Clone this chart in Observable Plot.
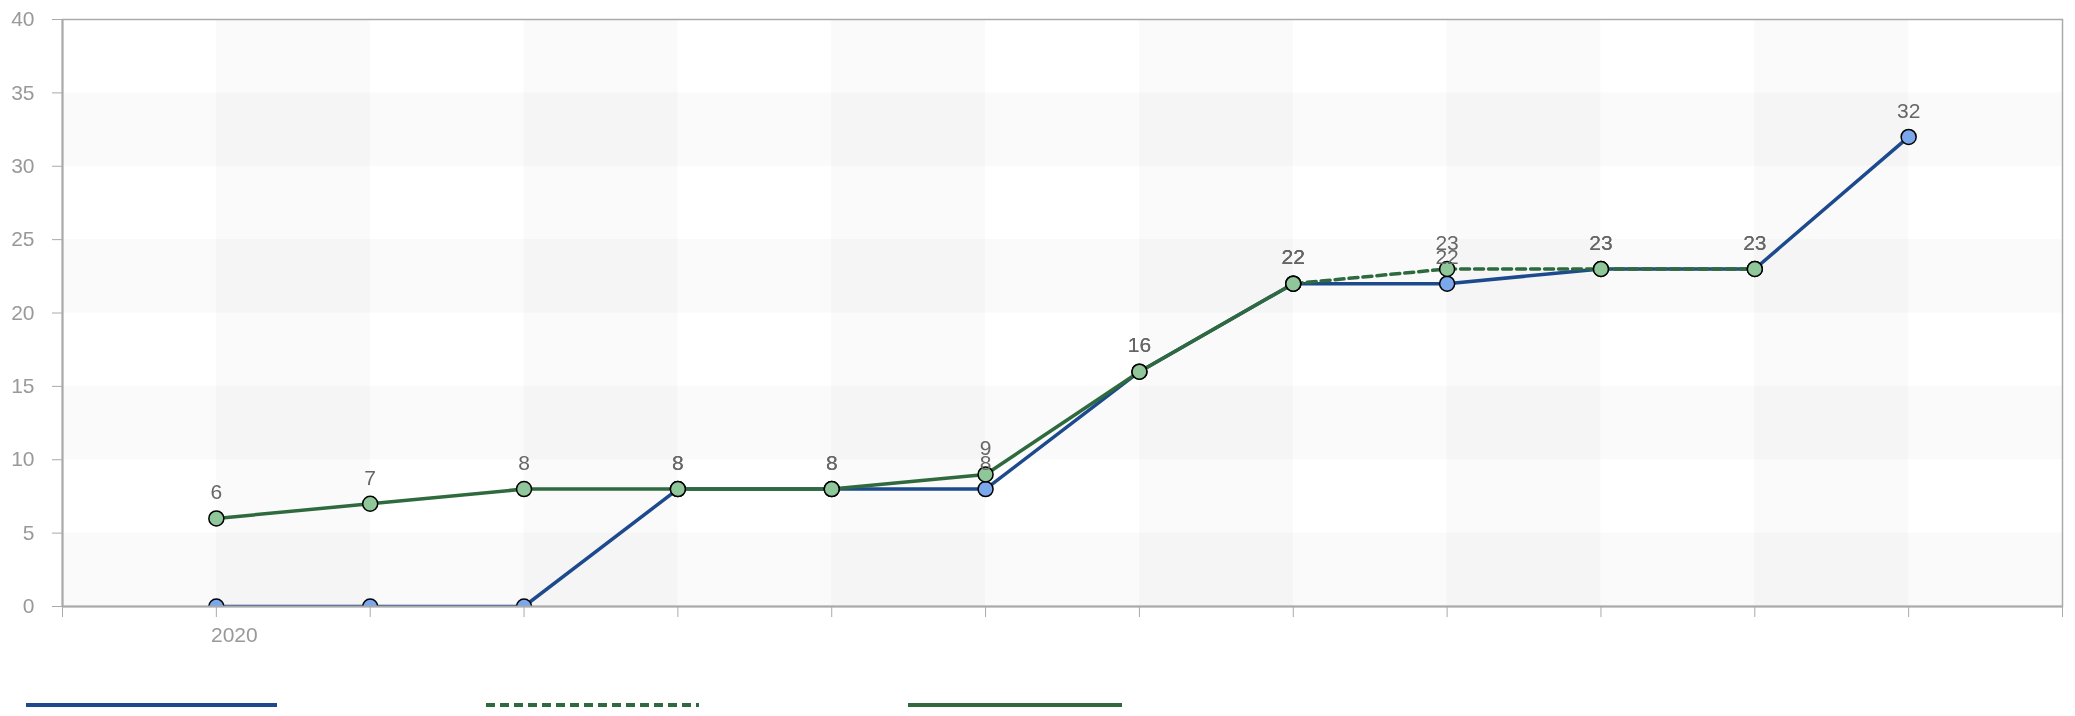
<!DOCTYPE html>
<html>
<head>
<meta charset="utf-8">
<script src="https://cdn.jsdelivr.net/npm/d3@7"></script>
<script src="https://cdn.jsdelivr.net/npm/@observablehq/plot@0.6"></script>
<style>
  html, body { margin: 0; padding: 0; background: #fff; }
  body { width: 2075px; height: 716px; overflow: hidden; font-family: "Liberation Sans", Arial, sans-serif; }
  #legend { position: relative; height: 56px; }
  #legend svg { position: absolute; top: 0; }
</style>
</head>
<body>
<div id="chart"></div>
<div id="legend"></div>
<script>
// ---- data ----
const periods = ["2020", "", "", "", "", "", "", "", "", "", "", ""];
const blueValues = [0, 0, 0, 8, 8, 8, 16, 22, 22, 23, 23, 32];
const greenSolidValues = [6, 7, 8, 8, 8, 9, 16, 22, null, null, null, null];
const greenDashedValues = [null, null, null, null, null, null, null, 22, 23, 23, 23, null];
const yTicks = [0, 5, 10, 15, 20, 25, 30, 35, 40];

// ---- styles ----
const blueLine = "#1d4a8c", blueFill = "#7ba7ec";
const greenLine = "#2e6a3d", greenFill = "#8fc79a";

const toRows = vals => vals.map((v, i) => ({i: i + 1, v})).filter(d => d.v != null);
const blue = toRows(blueValues);
const greenSolid = toRows(greenSolidValues);
const greenDashed = toRows(greenDashedValues);

const W = 2075, H = 660;
const xIdx = d3.range(0, periods.length + 2);
const hBands = [[0, 5], [10, 15], [20, 25], [30, 35]].map(([a, b]) => ({a, b}));
const vBands = d3.range(1, periods.length, 2).map(a => ({a, b: a + 1}));
const FS = 21;

const plot = Plot.plot({
  width: W,
  height: H,
  marginLeft: 62,
  marginRight: 13,
  marginTop: 19,
  marginBottom: 54,
  style: {fontFamily: "'Liberation Sans', Arial, sans-serif", background: "#fff"},
  x: {type: "linear", domain: [0, periods.length + 1]},
  y: {domain: [0, 40]},
  marks: [
    Plot.rect(hBands, {x1: 0, x2: periods.length + 1, y1: "a", y2: "b", fill: "#fafafa"}),
    Plot.rect(vBands, {x1: "a", x2: "b", y1: 0, y2: 40, fill: "#fafafa", mixBlendMode: "multiply"}),
    Plot.frame({stroke: "#aaa", strokeWidth: 1.5}),
    Plot.line(blue, {x: "i", y: "v", stroke: blueLine, strokeWidth: 3.5, clip: true}),
    Plot.line(greenSolid, {x: "i", y: "v", stroke: greenLine, strokeWidth: 3.5, clip: true}),
    Plot.line(greenDashed, {x: "i", y: "v", stroke: greenLine, strokeWidth: 3.5, strokeDasharray: "9,5", clip: true}),
    Plot.dot(blue, {x: "i", y: "v", r: 7.5, fill: blueFill, stroke: "#000", strokeWidth: 1.5, clip: true}),
    Plot.dot(greenSolid, {x: "i", y: "v", r: 7.5, fill: greenFill, stroke: "#000", strokeWidth: 1.5, clip: true}),
    Plot.dot(greenDashed, {x: "i", y: "v", r: 7.5, fill: greenFill, stroke: "#000", strokeWidth: 1.5, clip: true}),
    Plot.ruleY([0], {stroke: "#aaa", strokeWidth: 2}),
    Plot.ruleX([0], {stroke: "#aaa", strokeWidth: 2}),
    Plot.text(blue.filter(d => d.v !== 0), {x: "i", y: "v", text: d => String(d.v), dy: -26, fontSize: FS, fill: "#666"}),
    Plot.text(greenSolid, {x: "i", y: "v", text: d => String(d.v), dy: -26, fontSize: FS, fill: "#666"}),
    Plot.text(greenDashed, {x: "i", y: "v", text: d => String(d.v), dy: -26, fontSize: FS, fill: "#666"}),
    Plot.axisY({ticks: yTicks, tickSize: 10, tickPadding: 18, fontSize: FS, color: "#999", stroke: "#aaa", tickFormat: d => String(d)}),
    Plot.axisX({ticks: xIdx, tickSize: 11, stroke: "#aaa", tickFormat: () => ""}),
    Plot.axisX({ticks: [1], tickSize: 0, tickPadding: 21, fontSize: FS, color: "#999", dx: 18,
      tickFormat: i => periods[i - 1]})
  ]
});
document.getElementById("chart").appendChild(plot);

// ---- legend (swatches only, as in reference) ----
const legendItems = [
  {stroke: blueLine, dash: null, left: 26, width: 251},
  {stroke: greenLine, dash: "9,5", left: 486, width: 213},
  {stroke: greenLine, dash: null, left: 908, width: 214}
];
const legend = d3.select("#legend");
for (const it of legendItems) {
  const s = legend.append("svg").attr("width", it.width).attr("height", 10)
    .style("left", it.left + "px").style("top", "40px");
  const l = s.append("line").attr("x1", 0).attr("x2", it.width).attr("y1", 5).attr("y2", 5)
    .attr("stroke", it.stroke).attr("stroke-width", 4);
  if (it.dash) l.attr("stroke-dasharray", it.dash);
}
</script>
</body>
</html>
